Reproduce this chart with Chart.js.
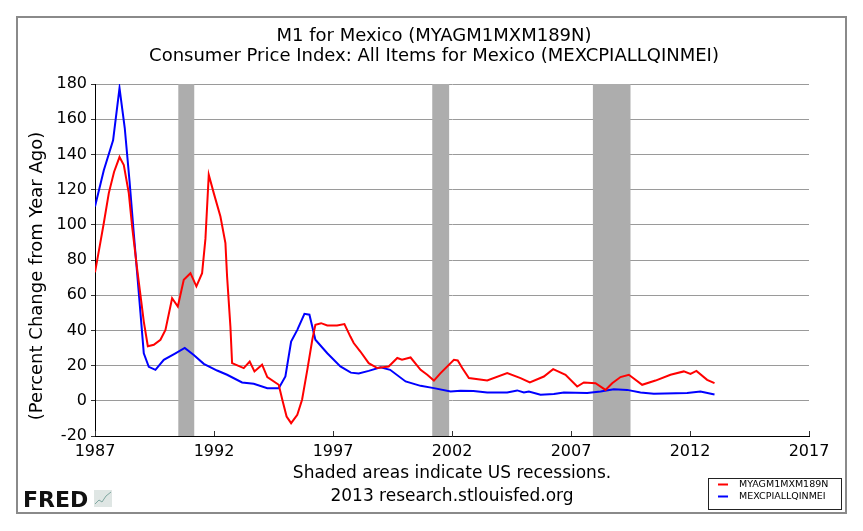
<!DOCTYPE html>
<html>
<head>
<meta charset="utf-8">
<script src="https://cdn.jsdelivr.net/npm/chart.js@4"></script>
<style>
html, body { margin: 0; padding: 0; background: #fff; }
#wrap { width: 863px; height: 531px; }
</style>
</head>
<body>
<div id="wrap"><canvas id="chart"></canvas></div>
<script>
// M1 for Mexico, percent change from year ago
const m1Dates = [1987.0, 1987.2, 1987.37, 1987.58, 1987.8, 1988.03, 1988.21, 1988.42, 1988.56, 1988.77,
  1988.91, 1989.05, 1989.22, 1989.47, 1989.75, 1989.96, 1990.24, 1990.48, 1990.73, 1991.01,
  1991.26, 1991.5, 1991.64, 1991.78, 1991.99, 1992.27, 1992.48, 1992.55, 1992.69, 1992.76,
  1993.25, 1993.5, 1993.7, 1994.02, 1994.24, 1994.72, 1994.87, 1995.05, 1995.24, 1995.5,
  1995.7, 1995.92, 1996.13, 1996.26, 1996.5, 1996.76, 1997.17, 1997.48, 1997.73, 1997.87,
  1998.15, 1998.5, 1998.86, 1999.34, 1999.7, 1999.9, 2000.26, 2000.68, 2000.96, 2001.24,
  2001.52, 2002.08, 2002.24, 2002.43, 2002.71, 2003.48, 2004.32, 2004.88, 2005.27, 2005.86,
  2006.25, 2006.77, 2007.26, 2007.54, 2008.03, 2008.45, 2008.73, 2009.08, 2009.43, 2009.99,
  2010.55, 2011.18, 2011.74, 2012.02, 2012.27, 2012.72, 2013.03];
const m1Values = [73, 88, 101, 118, 130, 138.5, 134, 118, 99, 75,
  60, 45, 31, 31.8, 34.7, 40.3, 58.3, 53.6, 68.8, 72.5,
  65, 72.5, 92, 128.4, 118, 104.7, 89.6, 70.6, 42, 21.4,
  18.6, 22.3, 16.7, 20.5, 13.5, 9.1, 0.6, -8.9, -12.7, -8,
  0.6, 17.6, 34.7, 43.2, 44.1, 42.8, 42.8, 43.6, 36.5, 32.8,
  28, 21.4, 18.6, 19.5, 24.3, 23.3, 24.6, 17.6, 14.8, 11.5,
  15.7, 23.3, 22.9, 18.6, 12.9, 11.5, 15.7, 12.9, 10.4, 13.8,
  18, 14.8, 8.1, 10.4, 10, 6.2, 10, 13.5, 14.8, 9.1,
  11.5, 14.8, 16.7, 15.3, 17, 11.9, 10];

// CPI all items for Mexico, percent change from year ago
const cpiDates = [1987.0, 1987.37, 1987.76, 1988.03, 1988.25, 1988.45, 1988.63, 1988.77, 1988.91, 1989.05,
  1989.26, 1989.54, 1989.89, 1990.38, 1990.77, 1991.15, 1991.57, 1992.13, 1992.55, 1993.18,
  1993.67, 1994.24, 1994.72, 1995.0, 1995.24, 1995.5, 1995.8, 1996.01, 1996.26, 1996.76,
  1997.31, 1997.75, 1998.08, 1998.5, 1999.0, 1999.4, 2000.05, 2000.68, 2001.24, 2001.94,
  2002.36, 2002.9, 2003.48, 2004.32, 2004.74, 2005.02, 2005.23, 2005.72, 2006.28, 2006.7,
  2007.68, 2008.24, 2008.8, 2009.36, 2009.92, 2010.48, 2011.88, 2012.44, 2013.03];
const cpiValues = [110.4, 131, 148, 177.7, 155, 125, 95, 72.7, 50, 27,
  19.3, 17.6, 23.3, 27, 30, 26, 21, 17.2, 14.8, 10.4,
  9.7, 7.2, 7.2, 13.8, 33.7, 40.3, 49.4, 48.9, 34.7, 27,
  19.5, 16, 15.5, 17, 19, 17.6, 11, 8.5, 7.2, 5.3,
  5.7, 5.5, 4.7, 4.7, 5.9, 4.7, 5.3, 3.4, 3.8, 4.7,
  4.4, 5.3, 6.6, 6.2, 4.7, 4, 4.4, 5.3, 3.6];

// US recessions (shaded)
const recessionStarts = [1990.5, 2001.17, 2007.92];
const recessionEnds = [1991.17, 2001.88, 2009.5];

const titleLines = ['M1 for Mexico (MYAGM1MXM189N)',
  'Consumer Price Index: All Items for Mexico (MEXCPIALLQINMEI)'];
const yAxisTitle = '(Percent Change from Year Ago)';
const footLines = ['Shaded areas indicate US recessions.', '2013 research.stlouisfed.org'];
const seriesNames = ['MYAGM1MXM189N', 'MEXCPIALLQINMEI'];
const seriesColors = ['#ff0000', '#0000ff'];

const FONT = "'DejaVu Sans', Verdana, sans-serif";

function toPoints(xs, ys) {
    return xs.map((x, i) => ({ x: x, y: ys[i] }));
}

const recessionPlugin = {
    id: 'recessions',
    beforeDatasetsDraw(chart) {
        const ctx = chart.ctx;
        const xs = chart.scales.x;
        const area = chart.chartArea;
        ctx.save();
        ctx.fillStyle = '#adadad';
        recessionStarts.forEach((s, i) => {
            const x0 = xs.getPixelForValue(s);
            const x1 = xs.getPixelForValue(recessionEnds[i]);
            ctx.fillRect(x0, area.top, x1 - x0, area.bottom - area.top);
        });
        ctx.restore();
    }
};

const decorPlugin = {
    id: 'decor',
    afterDraw(chart) {
        const ctx = chart.ctx;
        const area = chart.chartArea;
        const xs = chart.scales.x;
        ctx.save();

        // inside tick marks on the x axis
        ctx.strokeStyle = '#333';
        ctx.lineWidth = 1;
        xs.ticks.forEach(t => {
            const px = Math.round(xs.getPixelForValue(t.value)) + 0.5;
            ctx.beginPath();
            ctx.moveTo(px, area.bottom);
            ctx.lineTo(px, area.bottom - 5);
            ctx.stroke();
        });

        // titles
        ctx.fillStyle = '#000';
        ctx.textAlign = 'center';
        ctx.textBaseline = 'alphabetic';
        ctx.font = '18px ' + FONT;
        ctx.fillText(titleLines[0], 434, 41);
        ctx.fillText(titleLines[1], 434, 61);

        // y axis title
        ctx.save();
        ctx.translate(37, 276);
        ctx.rotate(-Math.PI / 2);
        ctx.textBaseline = 'middle';
        ctx.font = '18px ' + FONT;
        ctx.fillText(yAxisTitle, 0, 0);
        ctx.restore();

        // footer
        const cx = (area.left + area.right) / 2;
        ctx.textBaseline = 'middle';
        ctx.font = '17px ' + FONT;
        ctx.fillText(footLines[0], cx, 474);
        ctx.fillText(footLines[1], cx, 497);

        // legend box
        ctx.fillStyle = '#fff';
        ctx.fillRect(708, 478, 133, 31);
        ctx.strokeStyle = '#222';
        ctx.lineWidth = 1;
        ctx.strokeRect(708.5, 478.5, 133, 31);
        ctx.textAlign = 'left';
        ctx.font = '9.5px ' + FONT;
        seriesNames.forEach((name, i) => {
            const y = 484.5 + i * 12;
            ctx.strokeStyle = seriesColors[i];
            ctx.lineWidth = 2;
            ctx.beginPath();
            ctx.moveTo(718, y);
            ctx.lineTo(728, y);
            ctx.stroke();
            ctx.fillStyle = '#000';
            ctx.fillText(name, 739, y);
        });

        // FRED mark
        ctx.fillStyle = '#111';
        ctx.font = 'bold 22px ' + FONT;
        ctx.textBaseline = 'alphabetic';
        ctx.fillText('FRED', 23, 507);
        ctx.fillStyle = '#dfe6e4';
        ctx.fillRect(94, 490, 18, 17);
        ctx.strokeStyle = '#7fa7a0';
        ctx.lineWidth = 1;
        ctx.beginPath();
        ctx.moveTo(95, 504); ctx.lineTo(99, 500); ctx.lineTo(102, 502);
        ctx.lineTo(106, 496); ctx.lineTo(111, 492);
        ctx.stroke();

        // outer frame
        ctx.strokeStyle = '#8a8a8a';
        ctx.lineWidth = 2;
        ctx.strokeRect(17, 17, 829, 496);
        ctx.restore();
    }
};

document.addEventListener('DOMContentLoaded', function() {
    const ctx = document.getElementById('chart').getContext('2d');
    new Chart(ctx, {
        type: 'line',
        data: {
            datasets: [{
                label: seriesNames[0],
                data: toPoints(m1Dates, m1Values),
                borderColor: seriesColors[0],
                borderWidth: 2,
                pointRadius: 0,
                tension: 0,
                fill: false
            }, {
                label: seriesNames[1],
                data: toPoints(cpiDates, cpiValues),
                borderColor: seriesColors[1],
                borderWidth: 2,
                pointRadius: 0,
                tension: 0,
                fill: false
            }]
        },
        options: {
            responsive: true,
            maintainAspectRatio: false,
            animation: false,
            layout: { padding: { left: 35, right: 54, top: 84, bottom: 65 } },
            plugins: {
                legend: { display: false },
                title: { display: false },
                tooltip: { enabled: false }
            },
            scales: {
                x: {
                    type: 'linear',
                    min: 1987,
                    max: 2017,
                    afterFit: s => { s.height = 30; },
                    ticks: {
                        stepSize: 5,
                        color: '#000',
                        padding: 6,
                        maxRotation: 0,
                        font: { family: FONT, size: 16 },
                        callback: v => String(v)
                    },
                    grid: { display: true, drawOnChartArea: false, drawTicks: false },
                    border: { display: true, color: '#000', width: 1 }
                },
                y: {
                    min: -20,
                    max: 180,
                    afterFit: s => { s.width = 60; },
                    ticks: {
                        stepSize: 20,
                        color: '#000',
                        padding: 4,
                        font: { family: FONT, size: 16 }
                    },
                    grid: { color: '#9a9a9a', tickLength: 4, tickColor: '#333' },
                    border: { display: true, color: '#000', width: 1 }
                }
            }
        },
        plugins: [recessionPlugin, decorPlugin]
    });
});
</script>
</body>
</html>
